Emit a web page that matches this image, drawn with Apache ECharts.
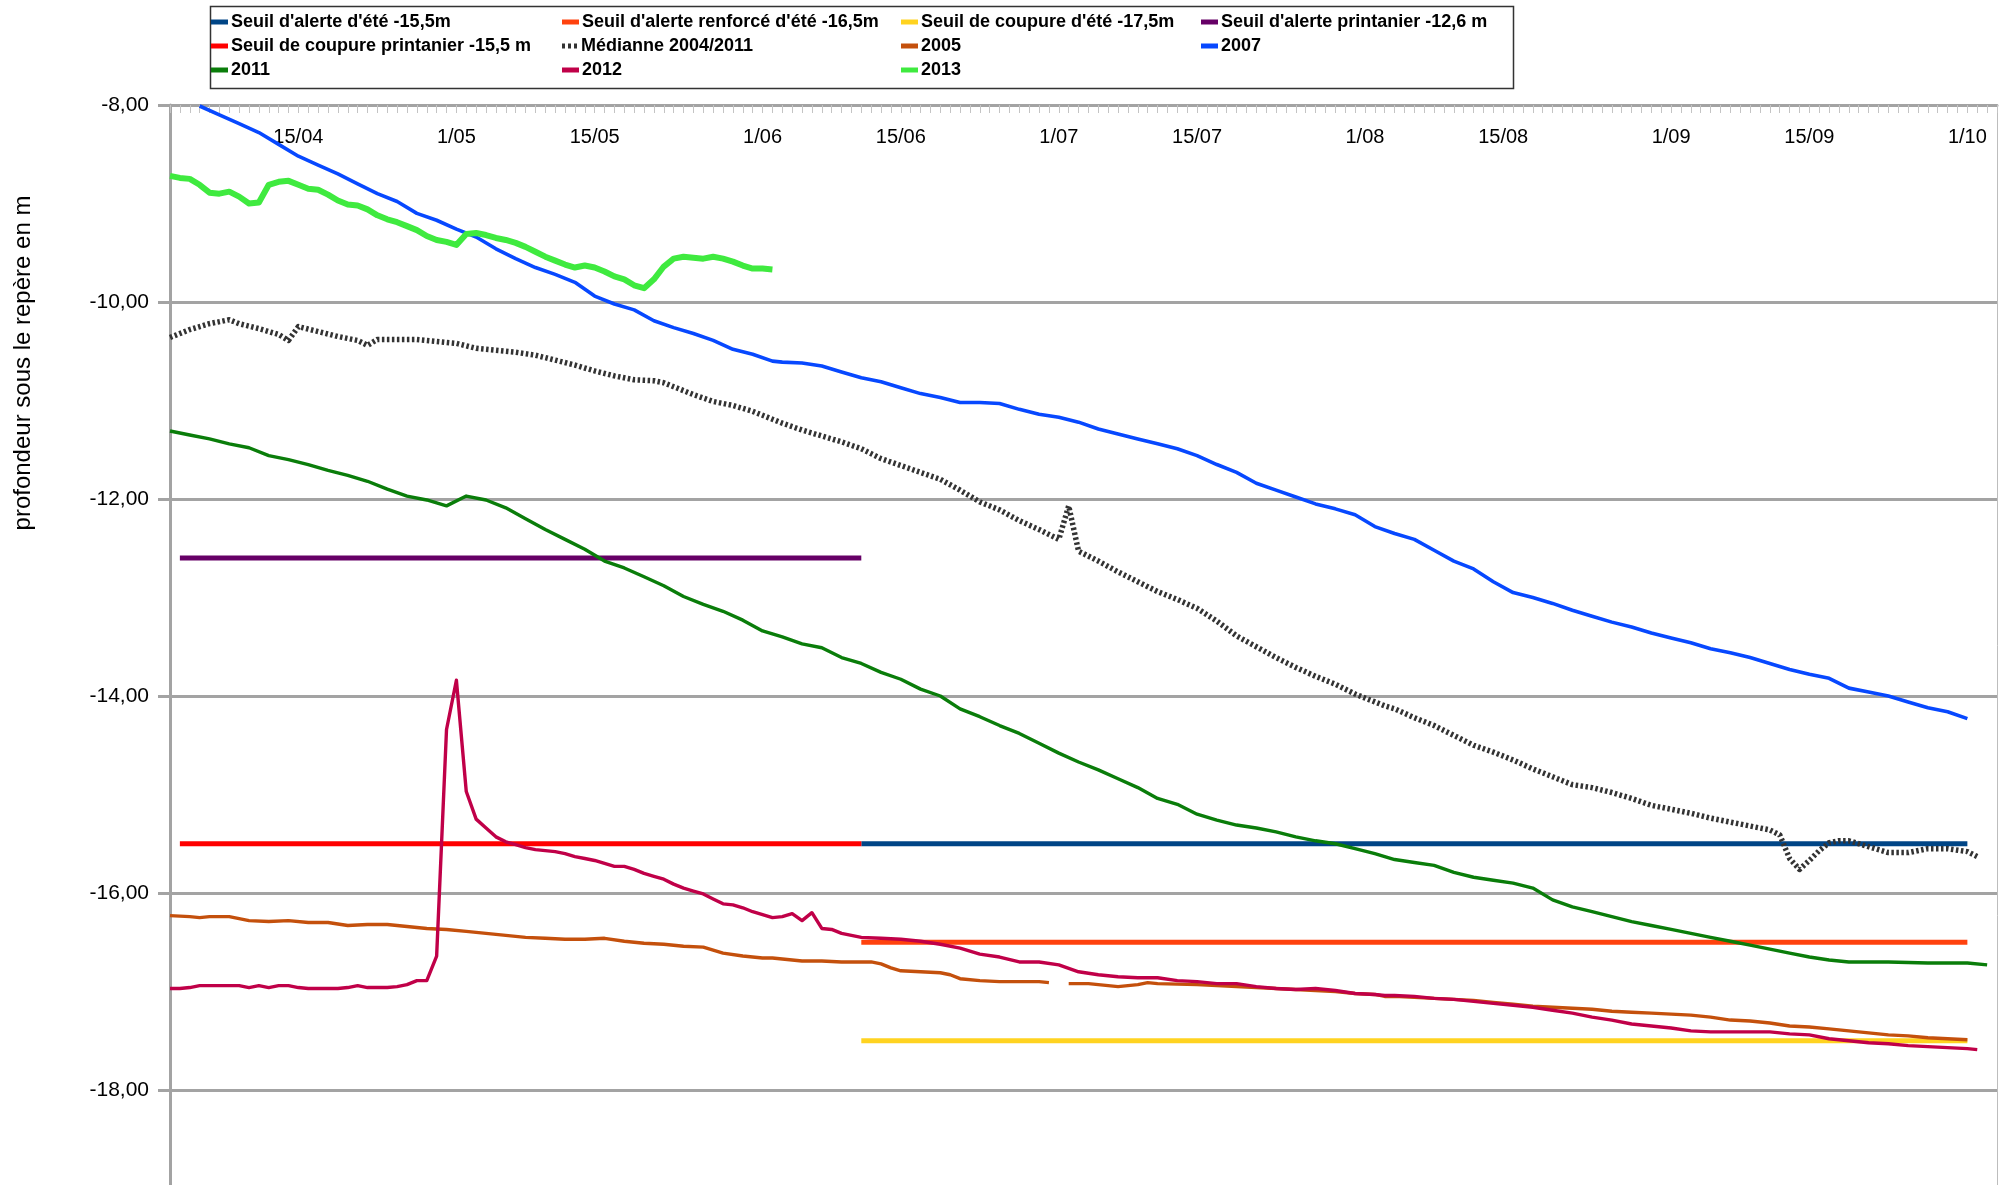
<!DOCTYPE html>
<html>
<head>
<meta charset="utf-8">
<script src="https://cdn.jsdelivr.net/npm/echarts@6/dist/echarts.min.js"></script>
<style>
html,body{margin:0;padding:0;background:#fff;}
#chart{width:2005px;height:1185px;}
</style>
</head>
<body>
<div id="chart"></div>
<script>
// ---------- categories: daily dates, 2/04 .. 4/10 ----------
const monthSpans = [['04', 2, 30], ['05', 1, 31], ['06', 1, 30], ['07', 1, 31], ['08', 1, 31], ['09', 1, 30], ['10', 1, 4]];
const categories = [];
monthSpans.forEach(function (m) { for (let d = m[1]; d <= m[2]; d++) categories.push(d + '/' + m[0]); });
const labelDays = ['1', '15'];

// ---------- y ticks ----------
const yMin = -20, yMax = -8, yStep = 2;

// ---------- threshold series (day index, value) ----------
const seuilAlertePrintanier = [[1, -12.6], [70, -12.6]];
const seuilCoupurePrintanier = [[1, -15.5], [70, -15.5]];
const seuilAlerteEte = [[70, -15.5], [182, -15.5]];
const seuilAlerteRenforceEte = [[70, -16.5], [182, -16.5]];
const seuilCoupureEte = [[70, -17.5], [182, -17.5]];

// ---------- measured series (day index, value) ----------
const mediane = [[0,-10.36],[2,-10.28],[4,-10.22],[6,-10.18],[7,-10.22],[9,-10.27],[11,-10.33],[12,-10.39],[13,-10.25],[15,-10.30],[17,-10.35],[19,-10.39],[20,-10.44],[21,-10.38],[23,-10.38],[25,-10.38],[27,-10.40],[29,-10.42],[31,-10.47],[33,-10.49],[35,-10.51],[37,-10.54],[39,-10.59],[41,-10.64],[43,-10.70],[45,-10.75],[47,-10.79],[49,-10.80],[50,-10.82],[51,-10.86],[53,-10.94],[55,-11.01],[57,-11.05],[59,-11.11],[61,-11.19],[62,-11.23],[64,-11.30],[66,-11.36],[68,-11.42],[70,-11.49],[72,-11.59],[74,-11.66],[76,-11.73],[78,-11.80],[80,-11.91],[82,-12.03],[84,-12.11],[86,-12.22],[88,-12.31],[90,-12.41],[91,-12.07],[92,-12.53],[94,-12.63],[96,-12.74],[98,-12.84],[100,-12.94],[102,-13.02],[104,-13.11],[106,-13.24],[108,-13.39],[110,-13.50],[112,-13.61],[114,-13.71],[116,-13.80],[118,-13.88],[120,-13.98],[122,-14.06],[123,-14.10],[124,-14.13],[126,-14.22],[128,-14.30],[130,-14.40],[132,-14.50],[134,-14.57],[136,-14.65],[138,-14.74],[140,-14.82],[142,-14.90],[144,-14.93],[146,-14.98],[148,-15.04],[150,-15.11],[152,-15.15],[154,-15.19],[156,-15.24],[158,-15.28],[160,-15.32],[162,-15.36],[163,-15.41],[164,-15.65],[165,-15.76],[166,-15.67],[167,-15.57],[168,-15.49],[169,-15.47],[170,-15.47],[172,-15.53],[174,-15.59],[176,-15.59],[178,-15.55],[180,-15.55],[182,-15.58],[183,-15.63]];

const y2005 = [[0,-16.23],[2,-16.24],[3,-16.25],[4,-16.24],[6,-16.24],[8,-16.28],[10,-16.29],[12,-16.28],[14,-16.30],[16,-16.30],[18,-16.33],[20,-16.32],[22,-16.32],[24,-16.34],[26,-16.36],[28,-16.37],[30,-16.39],[32,-16.41],[34,-16.43],[36,-16.45],[38,-16.46],[40,-16.47],[42,-16.47],[44,-16.46],[46,-16.49],[48,-16.51],[50,-16.52],[52,-16.54],[54,-16.55],[56,-16.61],[58,-16.64],[60,-16.66],[61,-16.66],[62,-16.67],[64,-16.69],[66,-16.69],[68,-16.70],[71,-16.70],[72,-16.72],[73,-16.76],[74,-16.79],[76,-16.80],[78,-16.81],[79,-16.83],[80,-16.87],[82,-16.89],[84,-16.90],[86,-16.90],[88,-16.90],[89,-16.91],[90,'-'],[91,-16.92],[93,-16.92],[95,-16.94],[96,-16.95],[98,-16.93],[99,-16.91],[100,-16.92],[104,-16.93],[106,-16.94],[110,-16.96],[114,-16.98],[118,-17.00],[120,-17.02],[122,-17.03],[123,-17.05],[124,-17.05],[126,-17.06],[128,-17.07],[130,-17.08],[132,-17.09],[134,-17.11],[136,-17.13],[138,-17.15],[140,-17.16],[142,-17.17],[144,-17.18],[146,-17.20],[148,-17.21],[150,-17.22],[152,-17.23],[154,-17.24],[156,-17.26],[158,-17.29],[160,-17.30],[162,-17.32],[164,-17.35],[166,-17.36],[168,-17.38],[170,-17.40],[172,-17.42],[174,-17.44],[176,-17.45],[178,-17.47],[180,-17.48],[182,-17.49]];

const y2007 = [[3,-8.01],[5,-8.10],[7,-8.19],[9,-8.28],[11,-8.40],[13,-8.52],[15,-8.61],[17,-8.70],[19,-8.80],[21,-8.90],[23,-8.98],[25,-9.10],[27,-9.17],[29,-9.26],[31,-9.34],[33,-9.46],[35,-9.56],[37,-9.65],[39,-9.72],[41,-9.80],[43,-9.94],[45,-10.02],[47,-10.08],[49,-10.19],[51,-10.26],[53,-10.32],[55,-10.39],[57,-10.48],[59,-10.53],[61,-10.60],[62,-10.61],[64,-10.62],[66,-10.65],[68,-10.71],[70,-10.77],[72,-10.81],[74,-10.87],[76,-10.93],[78,-10.97],[80,-11.02],[82,-11.02],[84,-11.03],[86,-11.09],[88,-11.14],[90,-11.17],[92,-11.22],[94,-11.29],[96,-11.34],[98,-11.39],[100,-11.44],[102,-11.49],[104,-11.56],[106,-11.65],[108,-11.73],[110,-11.84],[112,-11.91],[114,-11.98],[116,-12.05],[118,-12.10],[120,-12.16],[122,-12.28],[124,-12.35],[126,-12.41],[128,-12.52],[130,-12.63],[132,-12.71],[134,-12.84],[136,-12.95],[138,-13.00],[140,-13.06],[142,-13.13],[144,-13.19],[146,-13.25],[148,-13.30],[150,-13.36],[152,-13.41],[154,-13.46],[156,-13.52],[158,-13.56],[160,-13.61],[162,-13.67],[164,-13.73],[166,-13.78],[168,-13.82],[170,-13.92],[172,-13.96],[174,-14.00],[176,-14.06],[178,-14.12],[180,-14.16],[182,-14.23]];

const y2011 = [[0,-11.31],[2,-11.35],[4,-11.39],[6,-11.44],[8,-11.48],[10,-11.56],[12,-11.60],[14,-11.65],[16,-11.71],[18,-11.76],[20,-11.82],[22,-11.90],[24,-11.97],[26,-12.01],[28,-12.07],[30,-11.97],[32,-12.01],[34,-12.09],[36,-12.20],[38,-12.31],[40,-12.41],[42,-12.51],[44,-12.63],[46,-12.70],[48,-12.79],[50,-12.88],[52,-12.99],[54,-13.07],[56,-13.14],[58,-13.23],[60,-13.34],[62,-13.40],[64,-13.47],[66,-13.51],[68,-13.61],[70,-13.67],[72,-13.76],[74,-13.83],[76,-13.93],[78,-14.00],[80,-14.13],[82,-14.21],[84,-14.30],[86,-14.38],[88,-14.48],[90,-14.58],[92,-14.67],[94,-14.75],[96,-14.84],[98,-14.93],[100,-15.04],[102,-15.10],[104,-15.20],[106,-15.26],[108,-15.31],[110,-15.34],[112,-15.38],[114,-15.43],[116,-15.47],[118,-15.50],[120,-15.55],[122,-15.60],[124,-15.66],[126,-15.69],[128,-15.72],[130,-15.79],[132,-15.84],[134,-15.87],[136,-15.90],[138,-15.95],[140,-16.07],[142,-16.14],[144,-16.19],[146,-16.24],[148,-16.29],[150,-16.33],[152,-16.37],[154,-16.41],[156,-16.45],[158,-16.49],[160,-16.53],[162,-16.57],[164,-16.61],[166,-16.65],[168,-16.68],[170,-16.70],[174,-16.70],[178,-16.71],[182,-16.71],[184,-16.73]];

const y2012 = [[0,-16.97],[1,-16.97],[2,-16.96],[3,-16.94],[4,-16.94],[5,-16.94],[6,-16.94],[7,-16.94],[8,-16.96],[9,-16.94],[10,-16.96],[11,-16.94],[12,-16.94],[13,-16.96],[14,-16.97],[15,-16.97],[16,-16.97],[17,-16.97],[18,-16.96],[19,-16.94],[20,-16.96],[21,-16.96],[22,-16.96],[23,-16.95],[24,-16.93],[25,-16.89],[26,-16.89],[27,-16.64],[28,-14.34],[29,-13.84],[30,-14.97],[31,-15.25],[32,-15.34],[33,-15.43],[34,-15.48],[35,-15.51],[36,-15.54],[37,-15.56],[38,-15.57],[39,-15.58],[40,-15.60],[41,-15.63],[42,-15.65],[43,-15.67],[44,-15.70],[45,-15.73],[46,-15.73],[47,-15.76],[48,-15.80],[49,-15.83],[50,-15.86],[51,-15.91],[52,-15.95],[53,-15.98],[54,-16.01],[55,-16.06],[56,-16.11],[57,-16.12],[58,-16.15],[59,-16.19],[60,-16.22],[61,-16.25],[62,-16.24],[63,-16.21],[64,-16.28],[65,-16.20],[66,-16.36],[67,-16.37],[68,-16.41],[70,-16.45],[72,-16.46],[74,-16.47],[76,-16.49],[78,-16.52],[80,-16.56],[82,-16.62],[84,-16.65],[86,-16.70],[88,-16.70],[90,-16.73],[92,-16.80],[94,-16.83],[96,-16.85],[98,-16.86],[100,-16.86],[102,-16.89],[104,-16.90],[106,-16.92],[108,-16.92],[110,-16.95],[112,-16.97],[114,-16.98],[116,-16.97],[118,-16.99],[120,-17.02],[122,-17.03],[123,-17.04],[124,-17.04],[126,-17.05],[128,-17.07],[130,-17.08],[132,-17.10],[134,-17.12],[136,-17.14],[138,-17.16],[140,-17.19],[142,-17.22],[144,-17.26],[146,-17.29],[148,-17.33],[150,-17.35],[152,-17.37],[154,-17.40],[156,-17.41],[158,-17.41],[160,-17.41],[162,-17.41],[164,-17.43],[166,-17.44],[168,-17.48],[170,-17.50],[172,-17.52],[174,-17.53],[176,-17.55],[178,-17.56],[180,-17.57],[182,-17.58],[183,-17.59]];

const y2013 = [[0,-8.72],[1,-8.74],[2,-8.75],[3,-8.81],[4,-8.89],[5,-8.90],[6,-8.88],[7,-8.93],[8,-9.00],[9,-8.99],[10,-8.81],[11,-8.78],[12,-8.77],[13,-8.81],[14,-8.85],[15,-8.86],[16,-8.91],[17,-8.97],[18,-9.01],[19,-9.02],[20,-9.06],[21,-9.12],[22,-9.16],[23,-9.19],[24,-9.23],[25,-9.27],[26,-9.33],[27,-9.37],[28,-9.39],[29,-9.42],[30,-9.31],[31,-9.30],[32,-9.32],[33,-9.35],[34,-9.37],[35,-9.40],[36,-9.44],[37,-9.49],[38,-9.54],[39,-9.58],[40,-9.62],[41,-9.65],[42,-9.63],[43,-9.65],[44,-9.69],[45,-9.74],[46,-9.77],[47,-9.83],[48,-9.86],[49,-9.77],[50,-9.64],[51,-9.56],[52,-9.54],[53,-9.55],[54,-9.56],[55,-9.54],[56,-9.56],[57,-9.59],[58,-9.63],[59,-9.66],[60,-9.66],[61,-9.67]];

// ---------- names ----------
const N = {
  ae: "Seuil d'alerte d'été -15,5m",
  are: "Seuil d'alerte renforcé d'été -16,5m",
  ce: "Seuil de coupure d'été -17,5m",
  ap: "Seuil d'alerte printanier -12,6 m",
  cp: "Seuil de coupure printanier -15,5 m",
  med: "Médianne 2004/2011",
  y05: "2005", y07: "2007", y11: "2011", y12: "2012", y13: "2013"
};
const yTitle = 'profondeur sous le repère en m';

const FONT = "'Liberation Sans', Arial, sans-serif";

function line(name, data, color, width, type) {
  return {
    type: 'line', name: name, data: data, color: color,
    symbol: 'none', showSymbol: false, connectNulls: false, animation: false,
    lineStyle: { color: color, width: width, type: type || 'solid', cap: 'butt', join: 'round' },
    emphasis: { disabled: true }, silent: true
  };
}

const legendItems = [
  [N.ae, 211, 22], [N.cp, 211, 46], [N.y11, 211, 70],
  [N.are, 562, 22], [N.med, 562, 46], [N.y12, 562, 70],
  [N.ce, 901, 22], [N.y05, 901, 46], [N.y13, 901, 70],
  [N.ap, 1201, 22], [N.y07, 1201, 46]
];
const legends = legendItems.map(function (it) {
  const isMed = it[0] === N.med;
  return {
    data: [{ name: it[0], icon: isMed ? 'path://M0,0h3v5h-3z M6,0h3v5h-3z M12,0h3v5h-3z' : 'rect' }],
    left: it[1], top: it[2] - 9, padding: 0, orient: 'horizontal',
    itemWidth: 17, itemHeight: 5, itemGap: 0, selectedMode: false,
    textStyle: { fontFamily: FONT, fontSize: 18, fontWeight: 'bold', color: '#000', lineHeight: 18, padding: [0, 0, 0, -2] }
  };
});

const chart = echarts.init(document.getElementById('chart'), null, { renderer: 'canvas' });
chart.setOption({
  backgroundColor: '#ffffff',
  animation: false,
  legend: legends,
  grid: { left: 170, top: 105, width: 1827, height: 1182, containLabel: false, outerBoundsMode: 'none' },
  xAxis: {
    type: 'category', data: categories, position: 'top', boundaryGap: false,
    axisLine: { show: true, onZero: false, lineStyle: { color: '#a3a3a3', width: 3 } },
    axisTick: { show: true, inside: true, interval: 0, length: 8, lineStyle: { color: '#c4c4c4', width: 1 } },
    axisLabel: {
      show: true, inside: true, margin: 22, fontFamily: FONT, fontSize: 20, color: '#000',
      interval: function (i, name) { return labelDays.indexOf(name.split('/')[0]) >= 0; }
    },
    splitLine: { show: false }
  },
  yAxis: [{
    type: 'value', min: yMin, max: yMax, interval: yStep,
    axisLine: { show: true, onZero: false, lineStyle: { color: '#a3a3a3', width: 3 } },
    axisTick: { show: true, inside: false, length: 12, lineStyle: { color: '#a3a3a3', width: 3 } },
    axisLabel: { margin: 21, fontFamily: FONT, fontSize: 21, color: '#000',
      formatter: function (v) { return v.toFixed(2).replace('.', ','); } },
    splitLine: { show: true, lineStyle: { color: '#a3a3a3', width: 3 } }
  }, {
    type: 'value', min: yMin, max: yMax, interval: yStep, position: 'right',
    axisLine: { show: true, lineStyle: { color: '#bdbdbd', width: 1 } },
    axisTick: { show: false }, axisLabel: { show: false }, splitLine: { show: false }
  }],
  graphic: [
    { type: 'rect', left: 208, top: 4, shape: { x: 0, y: 0, width: 1303, height: 82 },
      style: { fill: 'none', stroke: '#333', lineWidth: 1.5 }, silent: true, z: 0 },
    { type: 'text', x: 23, y: 363, rotation: Math.PI / 2,
      style: { text: yTitle, fontFamily: FONT, fontSize: 24, fill: '#000', align: 'center', verticalAlign: 'middle' } }
  ],
  series: [
    line(N.ae, seuilAlerteEte, '#004586', 5),
    line(N.are, seuilAlerteRenforceEte, '#ff420e', 5),
    line(N.ce, seuilCoupureEte, '#ffd320', 5),
    line(N.ap, seuilAlertePrintanier, '#660066', 5),
    line(N.cp, seuilCoupurePrintanier, '#ff0000', 5),
    line(N.med, mediane, '#333333', 5.5, [2.5, 2.5]),
    line(N.y05, y2005, '#c4500c', 3.4),
    line(N.y07, y2007, '#0748ff', 3.6),
    line(N.y11, y2011, '#0a7d0a', 3.4),
    line(N.y12, y2012, '#c00048', 3.4),
    line(N.y13, y2013, '#3fea3f', 6)
  ]
});
</script>
</body>
</html>
